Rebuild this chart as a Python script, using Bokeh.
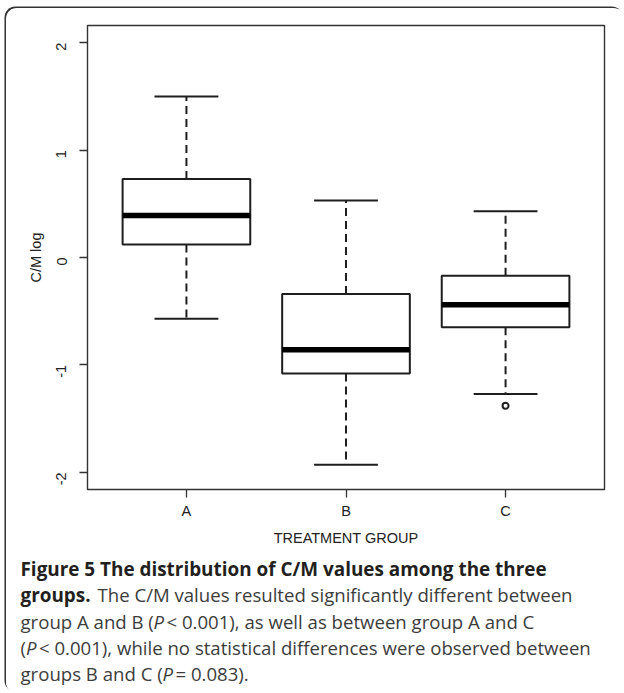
import math
from bokeh.plotting import figure
from bokeh.layouts import column
from bokeh.models import Range1d, FixedTicker, Label, ColumnDataSource
from bokeh.embed import file_html
from bokeh.resources import INLINE

# ---- data ----
groups = ["A", "B", "C"]
whisker_high = [1.50, 0.53, 0.43]
q3 = [0.73, -0.34, -0.17]
medians = [0.39, -0.86, -0.44]
q1 = [0.12, -1.08, -0.65]
whisker_low = [-0.57, -1.93, -1.27]
outlier_groups = ["C"]
outlier_values = [-1.38]
y_ticks = [-2, -1, 0, 1, 2]
x_label = "TREATMENT GROUP"
y_label = "C/M log"

pos = {g: i + 1 for i, g in enumerate(groups)}
xs = [pos[g] for g in groups]

BOX_HALF = 0.4
CAP_HALF = 0.2
INK = "#1e1e1e"

# page layout (the whole block is offset by OX, OY inside the page)
OX, OY = 6, 8
W = 624 - OX
H_MAIN = 542
H_CAP = 693 - OY - H_MAIN

src = ColumnDataSource(dict(
    x=xs,
    left=[v - BOX_HALF for v in xs], right=[v + BOX_HALF for v in xs],
    cap_l=[v - CAP_HALF for v in xs], cap_r=[v + CAP_HALF for v in xs],
    hi=whisker_high, q3=q3, med=medians, q1=q1, lo=whisker_low))
out_src = ColumnDataSource(dict(x=[pos[g] for g in outlier_groups], y=outlier_values))

p = figure(width=W, height=H_MAIN, output_backend="svg", toolbar_location=None,
           x_range=Range1d(0.38, 3.62), y_range=Range1d(-2.16, 2.16),
           min_border_left=87 - OX, min_border_right=W - (604 - OX),
           min_border_top=25 - OY, min_border_bottom=H_MAIN - (489 - OY))
p.background_fill_color = "white"
p.border_fill_color = "white"
p.outline_line_color = "#333333"
p.outline_line_width = 1.4
p.grid.visible = False

# whiskers
p.segment(x0="x", y0="q3", x1="x", y1="hi", source=src, line_color=INK,
          line_width=2, line_dash="8 5")
p.segment(x0="x", y0="q1", x1="x", y1="lo", source=src, line_color=INK,
          line_width=2, line_dash="8 5")
# caps
p.segment(x0="cap_l", y0="hi", x1="cap_r", y1="hi", source=src, line_color=INK, line_width=2)
p.segment(x0="cap_l", y0="lo", x1="cap_r", y1="lo", source=src, line_color=INK, line_width=2)
# boxes
p.quad(left="left", right="right", top="q3", bottom="q1", source=src,
       fill_color="white", line_color=INK, line_width=2)
# medians
p.segment(x0="left", y0="med", x1="right", y1="med", source=src, line_color="black",
          line_width=5.5, line_cap="butt")
# outliers
p.scatter(x="x", y="y", source=out_src, marker="circle", size=6,
          fill_color="white", line_color=INK, line_width=2)

AX_FONT = "Liberation Sans"
for ax in (p.xaxis[0], p.yaxis[0]):
    ax.axis_line_color = None
    ax.major_tick_line_color = "#333333"
    ax.major_tick_line_width = 1.3
    ax.major_tick_out = 8
    ax.major_tick_in = 0
    ax.minor_tick_line_color = None
    ax.major_label_text_font = AX_FONT
    ax.major_label_text_font_size = "14.5px"
    ax.major_label_text_color = "#222222"
    ax.axis_label_text_font = AX_FONT
    ax.axis_label_text_font_size = "14.5px"
    ax.axis_label_text_font_style = "normal"
    ax.axis_label_text_color = "#222222"

p.xaxis.ticker = FixedTicker(ticks=xs)
p.xaxis.major_label_overrides = {pos[g]: g for g in groups}
p.xaxis.major_label_standoff = 5
p.xaxis.axis_label = x_label
p.xaxis.axis_label_standoff = 8

p.yaxis.ticker = FixedTicker(ticks=y_ticks)
p.yaxis.major_label_overrides = {t: str(t) for t in y_ticks}
p.yaxis.major_label_orientation = math.pi / 2
p.yaxis.major_label_standoff = 18
p.yaxis.axis_label = y_label
p.yaxis.axis_label_standoff = 5

# ---- caption panel: its ranges are simply page pixels ----
cap = figure(width=W, height=H_CAP, output_backend="svg", toolbar_location=None,
             x_range=Range1d(OX, 624), y_range=Range1d(693, OY + H_MAIN),
             x_axis_location=None, y_axis_location=None,
             min_border=0, min_border_left=0, min_border_right=0,
             min_border_top=0, min_border_bottom=0)
cap.outline_line_color = None
cap.grid.visible = False
cap.background_fill_color = "white"
cap.border_fill_color = "white"

for fig in (p, cap):
    try:
        fig.frame_align = False
    except Exception:
        pass

CAP_FONT = "Open Sans"
BOLD_SIZE = "18.9px"
REG_SIZE = "18.6px"
BOLD_C = "#231f20"
REG_C = "#3c3c3c"
segments = [
    # (x_page, baseline_page, text, style, color)
    (20, 568, "Figure 5 The distribution of C/M values among the three", "bold", BOLD_C),
    (20, 594, "groups.", "bold", BOLD_C),
    (97, 594, "The C/M values resulted significantly different between", "normal", REG_C),
    (20, 621, "group A and B (", "normal", REG_C),
    (153, 621, "P", "italic", REG_C),
    (166, 621, "< 0.001), as well as between group A and C", "normal", REG_C),
    (20, 647, "(", "normal", REG_C),
    (25.5, 647, "P", "italic", REG_C),
    (38.5, 647, "< 0.001), while no statistical differences were observed between", "normal", REG_C),
    (20, 673, "groups B and C (", "normal", REG_C),
    (162, 673, "P", "italic", REG_C),
    (175, 673, "= 0.083).", "normal", REG_C),
]
for xp, yp, txt, style, col in segments:
    cap.add_layout(Label(x=xp, y=yp, text=txt, text_font=CAP_FONT,
                         text_font_size=BOLD_SIZE if style == "bold" else REG_SIZE,
                         text_font_style=style,
                         text_color=col, text_align="left",
                         text_baseline="alphabetic"))

layout = column(p, cap, spacing=0, margin=(OY, 0, 0, OX),
                styles={"border-radius": "11px", "overflow": "hidden",
                        "box-shadow": "-1.5px -1.5px 0 0 #333333"})

open("out.html", "w").write(file_html(layout, INLINE))
